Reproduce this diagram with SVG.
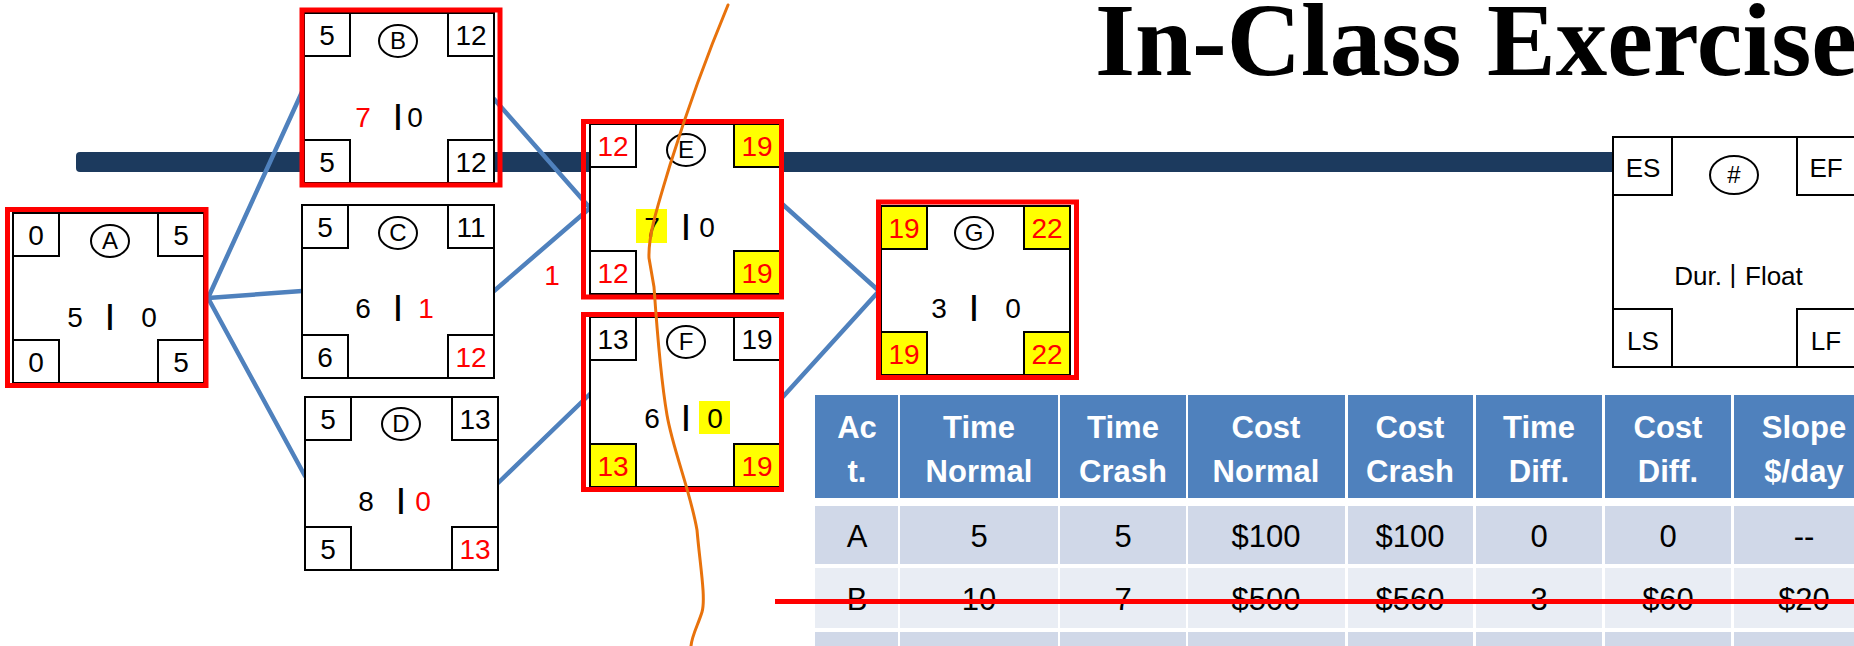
<svg xmlns="http://www.w3.org/2000/svg" width="1854" height="646" viewBox="0 0 1854 646">
<style>
.box{fill:#fff;stroke:#000;stroke-width:2}
.cw{fill:#fff;stroke:#000;stroke-width:2}
.cy{fill:#ff0;stroke:#000;stroke-width:2}
.frame{fill:none;stroke:#f00;stroke-width:5}
.ov{fill:none;stroke:#000;stroke-width:2}
.t{font-family:"Liberation Sans",Arial,sans-serif;font-size:28px;text-anchor:middle;fill:#000}
.bar{font-weight:bold}
.lt{font-family:"Liberation Sans",Arial,sans-serif;font-size:24px;text-anchor:middle;fill:#000}
.lg{font-family:"Liberation Sans",Arial,sans-serif;font-size:26px;text-anchor:middle;fill:#000}
.r{fill:#f00}
.conn{stroke:#4F81BD;stroke-width:4.5;fill:none;stroke-linecap:round}
.hl{fill:#ff0}
.th{fill:#4F81BD}
.ra{fill:#D0D8E8}
.rb{fill:#E9EDF4}
.ht{font-family:"Liberation Sans",Arial,sans-serif;font-size:31px;font-weight:bold;text-anchor:middle;fill:#fff}
.bt{font-family:"Liberation Sans",Arial,sans-serif;font-size:31px;text-anchor:middle;fill:#000}
</style>
<rect x="0" y="0" width="1854" height="646" fill="#fff"/>
<text x="1095" y="75" font-family="'Liberation Serif','Times New Roman',serif" font-size="103" font-weight="bold" fill="#000">In-Class Exercise</text>
<rect x="76" y="152" width="1545" height="20" rx="4" fill="#1C3A5E"/>
<g id="connectors">
<path class="conn" d="M208,298 L302,92"/>
<path class="conn" d="M208,298 L302,291"/>
<path class="conn" d="M208,298 L305,476"/>
<path class="conn" d="M494,99 L590,208"/>
<path class="conn" d="M494,291 L590,208"/>
<path class="conn" d="M498,483 L590,394"/>
<path class="conn" d="M780,202 L879,291"/>
<path class="conn" d="M780,400 L879,291"/>
<text class="t r" x="552" y="285">1</text>
</g>
<g id="nodeA">
<rect class="box" x="13" y="213" width="191" height="170"/>
<rect class="cw" x="13" y="213" width="46" height="43"/>
<rect class="cw" x="158" y="213" width="46" height="43"/>
<rect class="cw" x="13" y="340" width="46" height="43"/>
<rect class="cw" x="158" y="340" width="46" height="43"/>
<text class="t" x="36" y="245">0</text>
<text class="t" x="181" y="245">5</text>
<text class="t" x="36" y="372">0</text>
<text class="t" x="181" y="372">5</text>
<ellipse class="ov" cx="110" cy="241" rx="19" ry="16"/>
<text class="lt" x="110" y="249">A</text>
<text class="t" x="75" y="327">5</text>
<text class="t bar" x="110" y="324">|</text>
<text class="t" x="149" y="327">0</text>
<rect class="frame" x="7.5" y="209.5" width="198.5" height="176"/>
</g>
<g id="nodeB">
<rect class="box" x="304" y="13" width="190" height="170"/>
<rect class="cw" x="304" y="13" width="46" height="43"/>
<rect class="cw" x="448" y="13" width="46" height="43"/>
<rect class="cw" x="304" y="140" width="46" height="43"/>
<rect class="cw" x="448" y="140" width="46" height="43"/>
<text class="t" x="327" y="45">5</text>
<text class="t" x="471" y="45">12</text>
<text class="t" x="327" y="172">5</text>
<text class="t" x="471" y="172">12</text>
<ellipse class="ov" cx="398" cy="41" rx="19" ry="16"/>
<text class="lt" x="398" y="49">B</text>
<text class="t r" x="363" y="127">7</text>
<text class="t bar" x="398" y="124">|</text>
<text class="t" x="415" y="127">0</text>
<rect class="frame" x="302" y="10" width="198" height="175"/>
</g>
<g id="nodeC">
<rect class="box" x="302" y="205" width="192" height="173"/>
<rect class="cw" x="302" y="205" width="46" height="43"/>
<rect class="cw" x="448" y="205" width="46" height="43"/>
<rect class="cw" x="302" y="335" width="46" height="43"/>
<rect class="cw" x="448" y="335" width="46" height="43"/>
<text class="t" x="325" y="237">5</text>
<text class="t" x="471" y="237">11</text>
<text class="t" x="325" y="367">6</text>
<text class="t r" x="471" y="367">12</text>
<ellipse class="ov" cx="398" cy="233" rx="19" ry="16"/>
<text class="lt" x="398" y="241">C</text>
<text class="t" x="363" y="318">6</text>
<text class="t bar" x="398" y="315">|</text>
<text class="t r" x="426" y="318">1</text>
</g>
<g id="nodeD">
<rect class="box" x="305" y="397" width="193" height="173"/>
<rect class="cw" x="305" y="397" width="46" height="43"/>
<rect class="cw" x="452" y="397" width="46" height="43"/>
<rect class="cw" x="305" y="527" width="46" height="43"/>
<rect class="cw" x="452" y="527" width="46" height="43"/>
<text class="t" x="328" y="429">5</text>
<text class="t" x="475" y="429">13</text>
<text class="t" x="328" y="559">5</text>
<text class="t r" x="475" y="559">13</text>
<ellipse class="ov" cx="401" cy="424" rx="19" ry="16"/>
<text class="lt" x="401" y="432">D</text>
<text class="t" x="366" y="511">8</text>
<text class="t bar" x="401" y="508">|</text>
<text class="t r" x="423" y="511">0</text>
</g>
<g id="nodeE">
<rect class="box" x="590" y="124" width="190" height="170"/>
<rect class="cw" x="590" y="124" width="46" height="43"/>
<rect class="cy" x="734" y="124" width="46" height="43"/>
<rect class="cw" x="590" y="251" width="46" height="43"/>
<rect class="cy" x="734" y="251" width="46" height="43"/>
<text class="t r" x="613" y="156">12</text>
<text class="t r" x="757" y="156">19</text>
<text class="t r" x="613" y="283">12</text>
<text class="t r" x="757" y="283">19</text>
<ellipse class="ov" cx="686" cy="150" rx="19" ry="16"/>
<text class="lt" x="686" y="158">E</text>
<rect class="hl" x="636" y="209" width="31" height="34"/>
<text class="t" x="652" y="237">7</text>
<text class="t bar" x="686" y="234">|</text>
<text class="t" x="707" y="237">0</text>
<rect class="frame" x="583.5" y="121.5" width="198" height="175.5"/>
</g>
<g id="nodeF">
<rect class="box" x="590" y="317" width="190" height="170"/>
<rect class="cw" x="590" y="317" width="46" height="43"/>
<rect class="cw" x="734" y="317" width="46" height="43"/>
<rect class="cy" x="590" y="444" width="46" height="43"/>
<rect class="cy" x="734" y="444" width="46" height="43"/>
<text class="t" x="613" y="349">13</text>
<text class="t" x="757" y="349">19</text>
<text class="t r" x="613" y="476">13</text>
<text class="t r" x="757" y="476">19</text>
<ellipse class="ov" cx="686" cy="342" rx="19" ry="16"/>
<text class="lt" x="686" y="350">F</text>
<text class="t" x="652" y="428">6</text>
<text class="t bar" x="686" y="425">|</text>
<rect class="hl" x="699" y="401" width="31" height="33"/>
<text class="t" x="715" y="428">0</text>
<rect class="frame" x="583.5" y="314.5" width="198" height="175"/>
</g>
<g id="nodeG">
<rect class="box" x="881" y="206" width="189" height="169"/>
<rect class="cy" x="881" y="206" width="46" height="43"/>
<rect class="cy" x="1024" y="206" width="46" height="43"/>
<rect class="cy" x="881" y="332" width="46" height="43"/>
<rect class="cy" x="1024" y="332" width="46" height="43"/>
<text class="t r" x="904" y="238">19</text>
<text class="t r" x="1047" y="238">22</text>
<text class="t r" x="904" y="364">19</text>
<text class="t r" x="1047" y="364">22</text>
<ellipse class="ov" cx="974" cy="233" rx="19" ry="16"/>
<text class="lt" x="974" y="241">G</text>
<text class="t" x="939" y="318">3</text>
<text class="t bar" x="974" y="315">|</text>
<text class="t" x="1013" y="318">0</text>
<rect class="frame" x="878.5" y="202" width="198" height="175.5"/>
</g>
<g id="legend">
<rect class="box" x="1613" y="137" width="245" height="230"/>
<rect class="cw" x="1613" y="137" width="59" height="58"/>
<rect class="cw" x="1797" y="137" width="61" height="58"/>
<rect class="cw" x="1613" y="309" width="59" height="58"/>
<rect class="cw" x="1797" y="309" width="61" height="58"/>
<text class="lg" x="1643" y="177">ES</text>
<text class="lg" x="1826" y="177">EF</text>
<text class="lg" x="1643" y="350">LS</text>
<text class="lg" x="1826" y="350">LF</text>
<ellipse class="ov" cx="1734" cy="175" rx="24" ry="19"/>
<text class="lt" x="1734" y="183">#</text>
<text class="lg" x="1722" y="285" style="text-anchor:end">Dur.</text>
<text class="lg" x="1733" y="283">|</text>
<text class="lg" x="1745" y="285" style="text-anchor:start">Float</text>
</g>
<g id="table">
<rect class="th" x="815" y="395" width="83" height="103"/>
<rect class="th" x="900" y="395" width="158" height="103"/>
<rect class="th" x="1060" y="395" width="126" height="103"/>
<rect class="th" x="1188" y="395" width="157" height="103"/>
<rect class="th" x="1348" y="395" width="125" height="103"/>
<rect class="th" x="1476" y="395" width="126" height="103"/>
<rect class="th" x="1605" y="395" width="126" height="103"/>
<rect class="th" x="1734" y="395" width="136" height="103"/>
<rect class="ra" x="815" y="506" width="83" height="58"/>
<rect class="ra" x="900" y="506" width="158" height="58"/>
<rect class="ra" x="1060" y="506" width="126" height="58"/>
<rect class="ra" x="1188" y="506" width="157" height="58"/>
<rect class="ra" x="1348" y="506" width="125" height="58"/>
<rect class="ra" x="1476" y="506" width="126" height="58"/>
<rect class="ra" x="1605" y="506" width="126" height="58"/>
<rect class="ra" x="1734" y="506" width="136" height="58"/>
<rect class="rb" x="815" y="568" width="83" height="60"/>
<rect class="rb" x="900" y="568" width="158" height="60"/>
<rect class="rb" x="1060" y="568" width="126" height="60"/>
<rect class="rb" x="1188" y="568" width="157" height="60"/>
<rect class="rb" x="1348" y="568" width="125" height="60"/>
<rect class="rb" x="1476" y="568" width="126" height="60"/>
<rect class="rb" x="1605" y="568" width="126" height="60"/>
<rect class="rb" x="1734" y="568" width="136" height="60"/>
<rect class="ra" x="815" y="632" width="83" height="20"/>
<rect class="ra" x="900" y="632" width="158" height="20"/>
<rect class="ra" x="1060" y="632" width="126" height="20"/>
<rect class="ra" x="1188" y="632" width="157" height="20"/>
<rect class="ra" x="1348" y="632" width="125" height="20"/>
<rect class="ra" x="1476" y="632" width="126" height="20"/>
<rect class="ra" x="1605" y="632" width="126" height="20"/>
<rect class="ra" x="1734" y="632" width="136" height="20"/>
<text class="ht" x="857" y="438">Ac</text><text class="ht" x="857" y="482">t.</text>
<text class="ht" x="979" y="438">Time</text><text class="ht" x="979" y="482">Normal</text>
<text class="ht" x="1123" y="438">Time</text><text class="ht" x="1123" y="482">Crash</text>
<text class="ht" x="1266" y="438">Cost</text><text class="ht" x="1266" y="482">Normal</text>
<text class="ht" x="1410" y="438">Cost</text><text class="ht" x="1410" y="482">Crash</text>
<text class="ht" x="1539" y="438">Time</text><text class="ht" x="1539" y="482">Diff.</text>
<text class="ht" x="1668" y="438">Cost</text><text class="ht" x="1668" y="482">Diff.</text>
<text class="ht" x="1804" y="438">Slope</text><text class="ht" x="1804" y="482">$/day</text>
<text class="bt" x="857" y="547">A</text>
<text class="bt" x="979" y="547">5</text>
<text class="bt" x="1123" y="547">5</text>
<text class="bt" x="1266" y="547">$100</text>
<text class="bt" x="1410" y="547">$100</text>
<text class="bt" x="1539" y="547">0</text>
<text class="bt" x="1668" y="547">0</text>
<text class="bt" x="1804" y="547">--</text>
<text class="bt" x="857" y="610">B</text>
<text class="bt" x="979" y="610">10</text>
<text class="bt" x="1123" y="610">7</text>
<text class="bt" x="1266" y="610">$500</text>
<text class="bt" x="1410" y="610">$560</text>
<text class="bt" x="1539" y="610">3</text>
<text class="bt" x="1668" y="610">$60</text>
<text class="bt" x="1804" y="610">$20</text>
</g>
<line x1="775" y1="601.5" x2="1854" y2="601.5" stroke="#f00" stroke-width="5"/>
<path d="M728,5 C705,60 684,120 670,165 C658,205 648,235 649,258 L654,287 C657,330 661,380 667,415 C673,450 690,490 697,530 C700,565 706,598 702,612 C698,625 692,635 691,646" fill="none" stroke="#E8720C" stroke-width="3" stroke-linecap="round"/>
</svg>
